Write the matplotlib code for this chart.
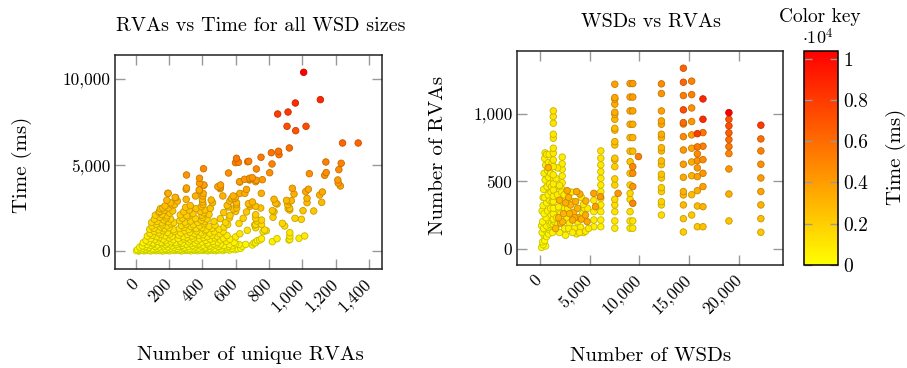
import numpy as np
import matplotlib
matplotlib.use("Agg")
import matplotlib.pyplot as plt
from matplotlib.colors import LinearSegmentedColormap

# ---- data ------------------------------------------------------------------
# left panel: (unique RVAs, time in ms)
left_points = [
    # sparse upper / right part
    (1008, 10390), (1108, 8800), (958, 8605), (914, 8080), (852, 7965), (908, 7250),
    (1022, 7250), (960, 6995), (922, 5990), (1241, 6280), (1335, 6280), (814, 5715),
    (857, 5800), (860, 5600), (818, 5060), (752, 5450), (605, 5390), (599, 5135),
    (678, 5215), (724, 4770), (557, 4535), (625, 4010), (677, 4170), (700, 4260),
    (724, 4110), (760, 4145), (407, 4785), (305, 4420), (383, 4230), (409, 3820),
    (305, 3665), (381, 3550), (507, 3700), (507, 3620), (195, 3355), (240, 3100),
    (1042, 4495), (1141, 5175), (1233, 5100), (1219, 4730), (1134, 4400), (1143, 4560),
    (1215, 3950), (1228, 3780), (1213, 4130), (940, 3645), (950, 3315), (1020, 3450),
    (1036, 3590), (1104, 3256), (1120, 3430), (754, 3355), (804, 4550), (720, 4030),
    (684, 4230), (934, 2925), (920, 2866), (1028, 3062), (1028, 2808), (1116, 2830),
    (905, 2940), (912, 2690), (915, 2460), (830, 3010), (840, 2780), (848, 2733),
    (820, 2343), (830, 2285), (824, 1960), (924, 2480), (924, 2384), (1004, 2343),
    (1068, 2325), (956, 1900), (994, 1843), (720, 1900), (728, 1744), (714, 1512),
    (880, 1610), (894, 1453), (774, 1221), (784, 1180), (764, 1122), (925, 1064),
    (925, 872), (925, 680), (920, 640), (980, 738), (1014, 872), (820, 541),
    (848, 715), (700, 349), (720, 483), (744, 640), (710, 470), (755, 710), (730, 600),
    (594, 3060), (600, 3157), (605, 2810), (605, 2690), (606, 2500), (600, 2300),
    (625, 3350), (655, 3350), (665, 3580), (676, 2750), (686, 2600), (720, 2600),
    (720, 2110), (665, 2270), (720, 1540), (720, 1350), (620, 1600), (645, 1900),
    (755, 1800), (755, 1540), (670, 1200), (625, 1000), (600, 820), (660, 380),
    (620, 380), (560, 260), (505, 260), (684, 2700), (700, 2850), (750, 2500),
    (453, 2965), (461, 2810), (493, 3740), (509, 3840), (523, 3200), (549, 2650),
    (565, 2900), (585, 3200), (575, 3050), (617, 5160), (672, 5190), (623, 4030),
    (653, 4170), (683, 4130), (383, 3936), (409, 3837), (193, 3354), (237, 3120),
    (303, 3587), (359, 3198), (383, 3506), (403, 3198), (303, 3005), (187, 2950),
    (210, 2800), (233, 2700), (250, 2900), (163, 2500), (143, 2300), (400, 3000),
    (402, 2850), (405, 3350),
    # dense block, 0-200 ms
    (5, 20), (12, 80), (20, 0), (28, 120), (35, 40), (42, 150), (50, 10), (58, 90),
    (66, 30), (74, 170), (82, 60), (90, 5), (98, 130), (106, 50), (114, 100), (122, 15),
    (130, 160), (138, 70), (146, 30), (154, 120), (162, 0), (170, 80), (178, 140),
    (186, 40), (194, 100), (202, 10), (210, 170), (218, 60), (226, 120), (234, 25),
    (242, 90), (250, 150), (258, 40), (266, 110), (274, 5), (282, 70), (290, 160),
    (298, 30), (306, 100), (314, 50), (322, 140), (330, 10), (338, 80), (346, 130),
    (354, 40), (362, 110), (370, 20), (378, 170), (386, 60), (394, 120), (402, 30),
    (410, 90), (418, 150), (426, 50), (434, 10), (442, 130), (450, 70), (458, 100),
    (466, 40), (474, 160), (482, 20), (490, 110), (500, 60), (512, 140), (524, 30),
    (536, 90), (548, 120), (562, 50), (578, 150), (595, 80), (612, 130), (630, 160),
    # 200-450 ms
    (25, 230), (40, 300), (55, 250), (68, 380), (80, 220), (92, 320), (105, 410),
    (118, 260), (130, 350), (142, 230), (155, 430), (168, 290), (180, 370), (192, 240),
    (205, 410), (218, 300), (230, 220), (243, 380), (256, 270), (268, 440), (280, 330),
    (293, 220), (305, 390), (318, 260), (330, 430), (342, 310), (355, 240), (368, 370),
    (380, 420), (392, 280), (405, 340), (418, 230), (430, 400), (442, 300), (455, 250),
    (468, 420), (480, 350), (495, 270), (510, 410), (528, 320), (545, 230), (562, 380),
    (580, 300), (600, 420), (640, 280),
    # 450-800 ms
    (45, 480), (62, 620), (78, 540), (90, 720), (104, 470), (116, 660), (128, 560),
    (140, 780), (152, 500), (165, 690), (177, 600), (190, 470), (202, 760), (214, 540),
    (226, 650), (240, 490), (255, 720), (268, 580), (280, 470), (292, 690), (305, 780),
    (318, 530), (330, 640), (344, 740), (356, 480), (370, 600), (383, 700), (396, 520),
    (408, 780), (420, 620), (434, 470), (448, 690), (462, 560), (476, 760), (492, 500),
    (508, 640), (526, 740), (545, 560), (565, 680), (590, 500),
    # 800-1200 ms
    (70, 860), (86, 1020), (100, 920), (112, 1150), (126, 840), (138, 1060), (150, 960),
    (164, 1180), (176, 880), (190, 1080), (204, 990), (218, 860), (232, 1140), (258, 920),
    (270, 1050), (284, 840), (296, 1170), (310, 960), (324, 1090), (338, 870), (352, 1010),
    (366, 1160), (380, 900), (392, 1060), (404, 950), (416, 1180), (430, 840), (444, 1040),
    (458, 920), (472, 1120), (488, 860), (506, 1000), (524, 1130), (548, 900),
    # 1200-1600 ms
    (84, 1260), (98, 1450), (110, 1320), (124, 1560), (136, 1230), (148, 1400), (160, 1520),
    (174, 1290), (188, 1460), (200, 1350), (212, 1580), (226, 1240), (262, 1300), (276, 1480),
    (290, 1380), (302, 1560), (318, 1250), (332, 1420), (346, 1530), (362, 1300), (384, 1460),
    (398, 1350), (410, 1580), (422, 1240), (440, 1440), (458, 1320), (476, 1500), (500, 1260),
    (530, 1400), (552, 1540),
    # 1600-2000 ms
    (96, 1660), (112, 1850), (128, 1720), (144, 1960), (156, 1640), (170, 1800), (184, 1920),
    (196, 1700), (210, 1860), (228, 1650), (264, 1760), (280, 1900), (296, 1680), (312, 1980),
    (330, 1740), (358, 1880), (372, 1660), (394, 1790), (402, 1950), (412, 1700), (428, 1860),
    (470, 1720), (508, 1880), (540, 1660), (562, 1920),
    # 2000-2700 ms
    (118, 2080), (140, 2250), (158, 2120), (172, 2360), (188, 2040), (204, 2200), (222, 2330),
    (268, 2100), (288, 2280), (306, 2060), (322, 2380), (344, 2180), (388, 2300), (398, 2080),
    (408, 2220), (416, 2380), (440, 2120), (528, 2240), (566, 2060),
    (148, 2460), (176, 2620), (196, 2500), (218, 2680), (300, 2540), (328, 2640), (362, 2460),
    (394, 2580), (404, 2700), (448, 2480), (556, 2560), (586, 2440),
]

# right panel, small-WSD cluster: (WSDs, RVAs, time in ms)
cluster_points = [
    (200, 10, 200), (350, 30, 250), (500, 60, 300), (700, 90, 350), (300, 50, 250),
    (600, 20, 200), (900, 110, 400), (450, 100, 300),
    (400, 150, 400), (700, 170, 450), (1000, 140, 420), (300, 200, 450), (650, 230, 500),
    (950, 210, 480), (1200, 190, 500), (450, 260, 500), (800, 280, 520), (1100, 300, 550),
    (350, 320, 520), (700, 340, 560), (1000, 360, 580), (500, 380, 560), (850, 400, 600),
    (1150, 420, 620), (400, 440, 580), (750, 460, 620), (1000, 480, 640), (550, 510, 620),
    (900, 530, 660), (450, 560, 640), (800, 580, 680), (600, 620, 660), (900, 640, 700),
    (500, 670, 680), (700, 700, 720), (860, 602, 3200), (550, 711, 700), (1150, 250, 520),
    (250, 120, 350), (550, 140, 380), (850, 160, 420), (1050, 180, 450), (1300, 120, 500),
    (1500, 200, 600), (1600, 300, 650), (1700, 380, 700), (1500, 450, 750), (1400, 520, 800),
    (1100, 560, 700), (1250, 640, 750), (600, 450, 550), (350, 380, 500), (250, 280, 420),
    (200, 170, 350), (1250, 350, 600), (1200, 460, 650), (950, 700, 720),
    (1370, 1023, 1200), (1370, 981, 1150), (1370, 932, 1100), (1370, 850, 1050),
    (1370, 820, 1000), (1370, 746, 980), (1370, 709, 950), (1370, 659, 900),
    (1370, 609, 880), (1370, 548, 850), (1370, 481, 800), (1370, 436, 780),
    (1370, 390, 750), (1370, 350, 700), (1370, 300, 680), (1370, 260, 650),
    (1370, 220, 600), (1370, 180, 550),
    (1600, 150, 2800), (1800, 180, 600), (2000, 120, 550), (1700, 230, 650), (2100, 260, 700),
    (1900, 310, 700), (2300, 200, 3000), (2500, 150, 650), (2700, 230, 700), (2500, 300, 750),
    (2300, 350, 800), (2760, 431, 3500), (2900, 380, 3200), (3100, 325, 3000), (3000, 190, 700),
    (3300, 213, 3400), (3400, 270, 3100), (3500, 150, 700), (3600, 350, 3300), (3700, 424, 3500),
    (3800, 300, 3100), (3900, 230, 3200), (4030, 406, 3300), (4100, 160, 800), (4300, 260, 800),
    (4400, 120, 750), (4630, 354, 3200), (4760, 201, 3600), (4500, 300, 800), (4200, 380, 900),
    (3200, 420, 900), (2600, 100, 600), (3700, 110, 700), (4900, 150, 850), (2200, 420, 850),
    (1800, 400, 800), (2000, 470, 850),
    (1900, 230, 3000), (2100, 190, 2900), (2400, 260, 3100), (2600, 340, 3300), (2800, 300, 900),
    (3000, 260, 3200), (3200, 350, 900), (3500, 230, 3300), (3800, 200, 900), (4200, 220, 3300),
    (4400, 330, 900), (4600, 250, 3400), (4800, 300, 850), (2900, 150, 750), (3300, 120, 750),
    (4000, 120, 800), (4600, 130, 800), (1650, 520, 800), (1800, 600, 850), (2000, 360, 3100),
    (2450, 400, 850),
    (2260, 680, 800), (2260, 630, 780), (2260, 590, 760), (2260, 540, 740), (2260, 490, 720),
    (2260, 440, 700),
    (5430, 411, 3800), (5430, 360, 900), (5600, 312, 3900), (5430, 275, 800), (5430, 213, 750),
    (5430, 163, 700),
    (6130, 726, 1100), (6130, 672, 1050), (6130, 622, 1000), (6130, 572, 950), (6130, 523, 900),
    (6130, 473, 880), (6130, 424, 850), (6100, 386, 4200), (6130, 374, 800), (6130, 325, 780),
    (6130, 275, 750), (6130, 213, 700), (6130, 163, 650),
]

# right panel, larger runs: one column of points per WSD count
wsd_cols = [7530, 7860, 9060, 9330, 9900, 12200, 14400, 15230, 15800, 16360, 18960, 22160]
rva_cols = [
    [1221, 1122, 1110, 1073, 1013, 998, 961, 894, 880, 795, 770, 672, 659, 609, 518, 473, 367, 325, 275, 206, 152],
    [411],
    [1226, 1126, 1023, 924, 825, 724, 646, 560, 473, 411, 367, 275, 206, 152],
    [1226, 1126, 1023, 924, 825, 724, 609, 560, 461, 337, 206, 152],
    [684],
    [1224, 1152, 1023, 949, 924, 850, 825, 750, 726, 652, 624, 553, 525, 453, 424, 349, 325, 250],
    [1340, 1236, 1137, 1031, 936, 926, 832, 733, 627, 530, 424, 399, 325, 223, 124],
    [1244, 1144, 1045, 944, 845, 746, 644, 542, 401, 250],
    [854, 756, 704, 654, 600, 535, 431, 317, 163],
    [1112, 961, 862, 761, 661, 560, 461, 312, 163],
    [1010, 961, 912, 860, 810, 758, 706, 592, 406, 206],
    [917, 815, 726, 627, 525, 424, 325, 223, 122],
]
time_cols = [
    [3780, 3600, 3500, 3400, 3300, 3200, 3000, 2800, 2700, 2600, 2500, 2300, 2200, 2100, 1900, 1800, 1500, 1400, 1200, 1000, 900],
    [4200],
    [3950, 3800, 3600, 3300, 3000, 2700, 2500, 2300, 1900, 1700, 1600, 1300, 1100, 1000],
    [4130, 4000, 3700, 3400, 3100, 2800, 4800, 4600, 4300, 4900, 1200, 1000],
    [5200],
    [4730, 4400, 3800, 3600, 3500, 3300, 3200, 3000, 2900, 2700, 2600, 2400, 2300, 2100, 2000, 1800, 1700, 1500],
    [6280, 6280, 5300, 7250, 5990, 5000, 4700, 4300, 4000, 3500, 3200, 3000, 2800, 2400, 2000],
    [5100, 5175, 4500, 4200, 4000, 3700, 3400, 3100, 2700, 2200],
    [7965, 5400, 4800, 4500, 4200, 3800, 3300, 2800, 2300],
    [8800, 8605, 5600, 5200, 4700, 4300, 3800, 3100, 2500],
    [10390, 6995, 7250, 6500, 6000, 5600, 5000, 4200, 3300, 2400],
    [8080, 6000, 5100, 4600, 4100, 3700, 3200, 2700, 2300],
]

# ---- style -------------------------------------------------------------------
plt.rcParams.update({
    "font.family": "cmr10",
    "mathtext.fontset": "cm",
    "axes.unicode_minus": False,
    "axes.formatter.use_mathtext": True,
})
cmap = LinearSegmentedColormap.from_list("yr", ["#ffff00", "#ff0000"])
VMAX = 10390
TICK = "#999999"
W, H = 907, 368


def scatter(ax, x, y, c):
    order = np.argsort(c, kind="stable")
    x, y, c = np.asarray(x)[order], np.asarray(y)[order], np.asarray(c)[order]
    rgb = cmap(c / VMAX)
    edge = rgb.copy()
    edge[:, :3] *= 0.78
    return ax.scatter(x, y, s=22, c=rgb, edgecolors=edge, linewidths=0.6, zorder=3)


def style(ax):
    ax.tick_params(direction="in", top=True, right=True, length=7, width=1,
                   color=TICK, labelsize=12.5)
    ax.tick_params(axis="x", pad=9)
    for s in ax.spines.values():
        s.set_linewidth(1.1)
        s.set_color("#222222")
    for lab in ax.get_xticklabels():
        lab.set_rotation(45)
        lab.set_ha("right")
        lab.set_va("center")
        lab.set_rotation_mode("anchor")


def ftext(px, py, s, **kw):
    # place text by pixel position (from the top-left corner)
    fig.text(px / W, 1 - py / H, s, ha="center", va="center", **kw)


fig = plt.figure(figsize=(W / 100, H / 100), dpi=100)
ax1 = fig.add_axes([0.1268, 0.269, 0.2944, 0.5815])
ax2 = fig.add_axes([0.5703, 0.2799, 0.2929, 0.5823])
cax = fig.add_axes([0.8864, 0.2799, 0.0375, 0.5823])

# left: RVAs vs time
rva_l = [p[0] for p in left_points]
time_l = [p[1] for p in left_points]
scatter(ax1, rva_l, time_l, time_l)
ax1.set_xlim(-124, 1478)
ax1.set_ylim(-1047, 11395)
ax1.set_xticks(range(0, 1401, 200))
ax1.set_xticklabels(["0", "200", "400", "600", "800", "1,000", "1,200", "1,400"])
ax1.set_yticks([0, 5000, 10000])
ax1.set_yticklabels(["0", "5,000", "10,000"])
style(ax1)

# right: WSDs vs RVAs, coloured by time
wsd_r = [p[0] for p in cluster_points]
rva_r = [p[1] for p in cluster_points]
time_r = [p[2] for p in cluster_points]
for w, rs, ts in zip(wsd_cols, rva_cols, time_cols):
    wsd_r += [w] * len(rs)
    rva_r += rs
    time_r += ts
scatter(ax2, wsd_r, rva_r, time_r)
ax2.set_xlim(-2240, 24370)
ax2.set_ylim(-121, 1470)
ax2.set_xticks([0, 5000, 10000, 15000, 20000])
ax2.set_xticklabels(["0", "5,000", "10,000", "15,000", "20,000"])
ax2.set_yticks([0, 500, 1000])
ax2.set_yticklabels(["0", "500", "1,000"])
style(ax2)

# colour key
sm = plt.cm.ScalarMappable(cmap=cmap, norm=plt.Normalize(0, VMAX))
cb = fig.colorbar(sm, cax=cax)
cb.set_ticks([0, 2000, 4000, 6000, 8000, 10000])
cb.set_ticklabels(["0", "0.2", "0.4", "0.6", "0.8", "1"])
cb.outline.set_linewidth(1.1)
cax.yaxis.set_ticks_position("both")
cax.tick_params(direction="in", length=6, width=1, color=TICK, labelsize=14,
                labelleft=False, labelright=True)

# titles and axis labels
ftext(261, 26, "RVAs vs Time for all WSD sizes", fontsize=14.5)
ftext(651, 22, "WSDs vs RVAs", fontsize=14.5)
ftext(250, 355, "Number of unique RVAs", fontsize=15)
ftext(651, 356, "Number of WSDs", fontsize=15)
ftext(22, 165, "Time (ms)", fontsize=15, rotation=90)
ftext(438, 155, "Number of RVAs", fontsize=15, rotation=90)
ftext(896, 157, "Time (ms)", fontsize=15, rotation=90)
ftext(820, 17, "Color key", fontsize=14)
ftext(818, 37, r"$\cdot 10^4$", fontsize=13)

fig.savefig("out.png", dpi=100, facecolor="white")
